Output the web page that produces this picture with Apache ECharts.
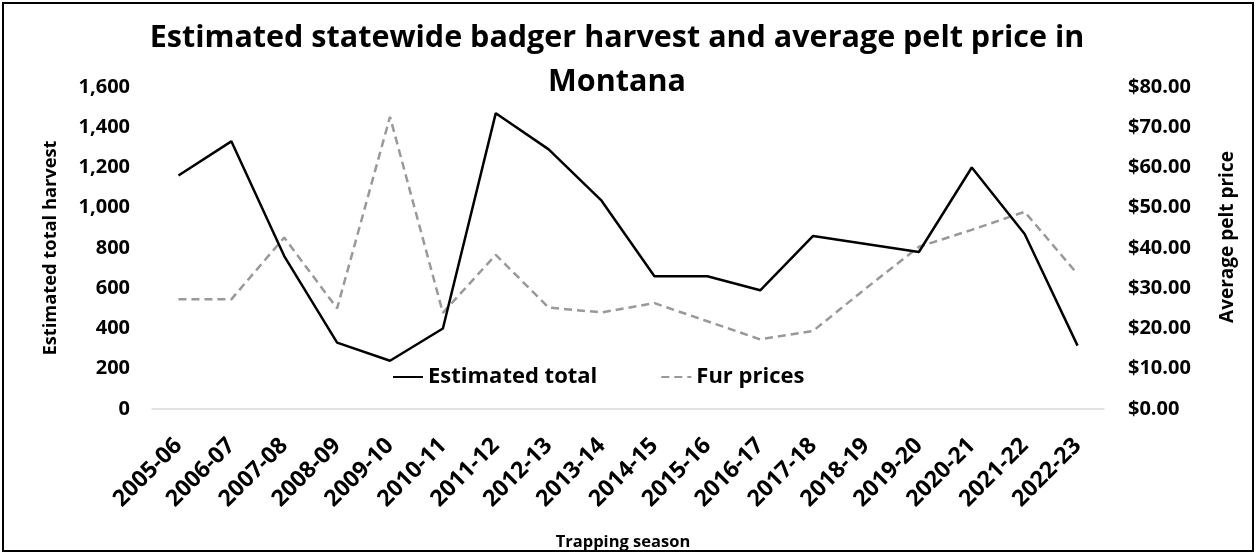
<!DOCTYPE html>
<html><head><meta charset="utf-8">
<script src="https://cdn.jsdelivr.net/npm/echarts@6/dist/echarts.min.js"></script>
<style>html,body{margin:0;padding:0;background:#fff}#c{width:1257px;height:554px}</style>
</head><body><div id="c"></div>
<script>
const seasons = ['2005-06','2006-07','2007-08','2008-09','2009-10','2010-11','2011-12','2012-13','2013-14','2014-15','2015-16','2016-17','2017-18','2018-19','2019-20','2020-21','2021-22','2022-23'];
const harvest = [1160,1330,760,330,240,400,1470,1290,1035,660,660,590,860,820,780,1200,870,315];
const furPrices = [27.25,27.25,42.6,25.0,72.6,23.9,38.3,25.2,24.0,26.3,21.8,17.3,19.4,30.0,40.3,44.5,49.0,33.5];
const leftTicks = [0,1600,200];
const rightTicks = [0,80,10];

const F = 'Open Sans';
const titleStyle = {fontFamily:F,fontWeight:'bold',fontSize:30.5,color:'#000'};
const chart = echarts.init(document.getElementById('c'), null, {renderer:'canvas'});
chart.setOption({
  animation:false,
  backgroundColor:'#fff',
  graphic:[{type:'rect',shape:{x:3,y:3,width:1250,height:548},style:{fill:'none',stroke:'#000',lineWidth:2},z:-1}],
  title:[{text:'Estimated statewide badger harvest and average pelt price in',left:612,textAlign:'center',top:18,textStyle:titleStyle},
         {text:'Montana',left:612,textAlign:'center',top:62,textStyle:titleStyle}],
  legend:{top:364,left:388,itemWidth:30,itemHeight:12,itemGap:63,backgroundColor:'#fff',padding:[2,4],
    itemStyle:{opacity:0},
    textStyle:{fontFamily:F,fontWeight:'bold',fontSize:22,color:'#000'},
    data:['Estimated total','Fur prices']},
  grid:{left:152,right:153,top:87,bottom:145,containLabel:false,outerBoundsMode:'none'},
  xAxis:{type:'category',data:seasons,boundaryGap:true,
    axisLine:{lineStyle:{color:'#d9d9d9',width:1.5}},axisTick:{show:false},
    axisLabel:{rotate:45,interval:0,fontFamily:F,fontWeight:'bold',fontSize:23,color:'#000',margin:33},
    name:'Trapping season',nameLocation:'middle',nameGap:125,
    nameTextStyle:{fontFamily:F,fontWeight:'bold',fontSize:16.5,color:'#000',padding:[0,10,0,0]}},
  yAxis:[{type:'value',min:leftTicks[0],max:leftTicks[1],interval:leftTicks[2],
    splitLine:{show:false},axisLine:{show:false},axisTick:{show:false},
    axisLabel:{fontFamily:F,fontWeight:'bold',fontSize:20,color:'#000',margin:22,
      formatter:v=>v.toLocaleString('en-US')},
    name:'Estimated total harvest',nameLocation:'middle',nameGap:92,
    nameTextStyle:{fontFamily:F,fontWeight:'bold',fontSize:18.3,color:'#000'}},
   {type:'value',min:rightTicks[0],max:rightTicks[1],interval:rightTicks[2],
    splitLine:{show:false},axisLine:{show:false},axisTick:{show:false},
    axisLabel:{fontFamily:F,fontWeight:'bold',fontSize:20,color:'#000',margin:24,
      formatter:v=>'$'+v.toFixed(2)},
    name:'Average pelt price',nameLocation:'middle',nameGap:114,
    nameTextStyle:{fontFamily:F,fontWeight:'bold',fontSize:19,color:'#000',padding:[0,0,0,22]}}],
  series:[
    {name:'Estimated total',type:'line',data:harvest,yAxisIndex:0,symbol:'none',
      lineStyle:{color:'#000',width:2.5},itemStyle:{color:'#000'},z:3},
    {name:'Fur prices',type:'line',data:furPrices,yAxisIndex:1,symbol:'none',
      lineStyle:{color:'#999',width:2.5,type:[8,5]},itemStyle:{color:'#999'},z:2}
  ]
});
</script></body></html>
